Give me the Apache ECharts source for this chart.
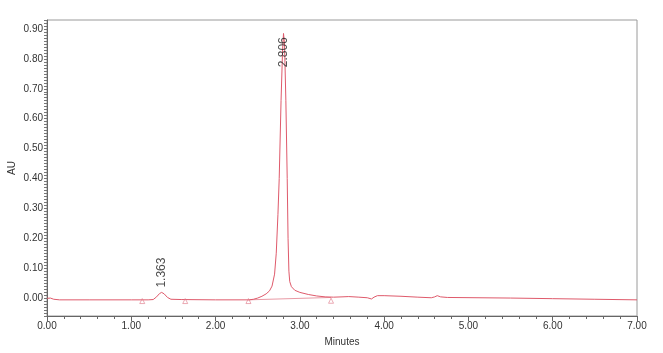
<!DOCTYPE html>
<html>
<head>
<meta charset="utf-8">
<script src="https://cdn.jsdelivr.net/npm/echarts@6/dist/echarts.min.js"></script>
<style>
  html, body { margin: 0; padding: 0; background: #fff; }
  #chart { width: 663px; height: 353px; }
</style>
</head>
<body>
<div id="chart"></div>
<script>
// retention time (min) and absorbance (AU)
const times = [0.00, 0.04, 0.08, 0.15, 0.50, 1.00, 1.20, 1.26, 1.30, 1.335, 1.36, 1.39, 1.43, 1.47, 1.60, 2.00,
  2.40, 2.45, 2.50, 2.55, 2.60, 2.64, 2.67, 2.70, 2.72, 2.74, 2.755, 2.777, 2.795, 2.806, 2.818, 2.834, 2.85, 2.86,
  2.87, 2.88, 2.90, 2.94, 3.00, 3.10, 3.20, 3.30, 3.40, 3.50, 3.58, 3.70, 3.80, 3.85, 3.88, 3.92, 4.00, 4.20,
  4.40, 4.56, 4.60, 4.63, 4.67, 4.75, 5.50, 6.00, 6.50, 7.00]
const absorb = [-0.001, 0.000, -0.004, -0.006, -0.006, -0.006, -0.006, -0.005, 0.004, 0.015, 0.019, 0.014, 0.002, -0.004, -0.005, -0.006,
  -0.006, -0.004, 0.000, 0.006, 0.014, 0.024, 0.040, 0.080, 0.150, 0.280, 0.400, 0.660, 0.830, 0.885, 0.850, 0.660, 0.400, 0.200,
  0.090, 0.055, 0.038, 0.026, 0.019, 0.012, 0.007, 0.004, 0.003, 0.004, 0.005, 0.003, 0.001, -0.003, 0.003, 0.008, 0.008, 0.006,
  0.003, 0.001, 0.004, 0.008, 0.004, 0.002, 0.000, -0.002, -0.004, -0.006]

// peak labels
const peakNames = ['1.363', '2.806']
const peakLabelT = [1.355, 2.803]
const peakLabelAU = [0.035, 0.772]

// integration start / end markers
const markT = [1.13, 1.64, 2.39, 3.37]
const markAU = [-0.010, -0.010, -0.010, -0.009]

// drawn baseline under main peak
const baseT = [2.39, 3.37]
const baseAU = [-0.006, 0.002]

const yTickLabels = ['0.00', '0.10', '0.20', '0.30', '0.40', '0.50', '0.60', '0.70', '0.80', '0.90']

const chart = echarts.init(document.getElementById('chart'))
const font = 'Liberation Sans, Arial, sans-serif'

const option = {
  backgroundColor: '#fff',
  animation: false,
  grid: {
    left: 47, right: 26, top: 20, bottom: 37,
    outerBoundsMode: 'none',
    containLabel: false,
    show: true,
    borderColor: '#9a9a9a',
    borderWidth: 1
  },
  xAxis: {
    type: 'value',
    min: 0, max: 7, interval: 1,
    name: 'Minutes',
    nameLocation: 'middle',
    nameGap: 21,
    nameTextStyle: { color: '#333', fontSize: 10, fontFamily: font },
    axisLine: { show: true, onZero: false, lineStyle: { color: '#666' } },
    axisTick: { show: true, length: 5, lineStyle: { color: '#666' } },
    minorTick: { show: true, splitNumber: 5, length: 3, lineStyle: { color: '#666' } },
    splitLine: { show: false },
    axisLabel: {
      color: '#333', fontSize: 10, fontFamily: font, margin: 5,
      formatter: v => v.toFixed(2)
    }
  },
  yAxis: {
    type: 'value',
    min: -0.06, max: 0.93, interval: 0.01,
    name: 'AU',
    nameLocation: 'middle',
    nameGap: 30,
    nameMoveOverlap: false,
    nameTextStyle: { color: '#333', fontSize: 10, fontFamily: font },
    axisLine: { show: true, onZero: false, lineStyle: { color: '#666' } },
    axisTick: { show: true, length: 3, lineStyle: { color: '#777' } },
    splitLine: { show: false },
    axisLabel: {
      color: '#333', fontSize: 10, fontFamily: font, margin: 4,
      formatter: v => {
        const h = Math.round(v * 100)
        if (h < 0 || h % 10 !== 0) return ''
        return yTickLabels[h / 10] || ''
      }
    }
  },
  series: [
    {
      // chromatogram
      type: 'line',
      data: times.map((t, i) => [t, absorb[i]]),
      showSymbol: false,
      lineStyle: { color: '#df5a6b', width: 1 },
      z: 3
    },
    {
      // baseline drawn by integration
      type: 'line',
      data: baseT.map((t, i) => [t, baseAU[i]]),
      showSymbol: false,
      lineStyle: { color: '#e99aa5', width: 1 },
      z: 2
    },
    {
      type: 'scatter',
      data: markT.map((t, i) => [t, markAU[i]]),
      symbol: 'triangle',
      symbolSize: 5,
      itemStyle: { color: 'rgba(255,255,255,0)', borderColor: '#e07a8a', borderWidth: 0.8 },
      z: 4
    },
    {
      // peak retention time labels
      type: 'scatter',
      data: peakLabelT.map((t, i) => ({ value: [t, peakLabelAU[i]], name: peakNames[i] })),
      symbolSize: 0,
      label: {
        show: true,
        position: 'top',
        distance: 0,
        rotate: 90,
        align: 'left',
        verticalAlign: 'middle',
        formatter: p => p.name,
        color: '#222',
        fontSize: 12,
        fontFamily: font
      },
      z: 5
    }
  ]
}

chart.setOption(option)
</script>
</body>
</html>
